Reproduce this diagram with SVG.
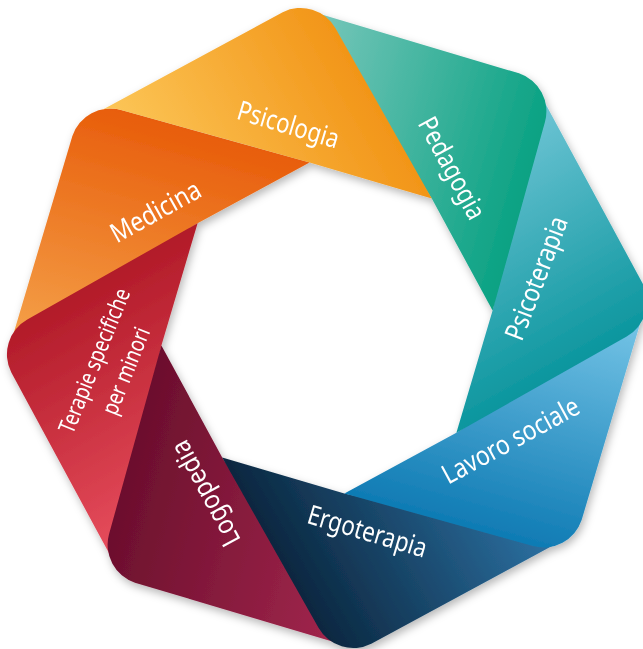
<svg xmlns="http://www.w3.org/2000/svg" width="643" height="649" viewBox="0 0 643 649">
  <style>
    .lbl { font-family: "Noto Sans", "Open Sans", "Liberation Sans", sans-serif; font-size: 27px; fill: #ffffff; text-anchor: middle; }
    .sm { font-size: 23px; }
  </style>
  <defs>
    <path id="band" d="M93.2,114.7 L282.7,12.2 A40,40 0 0 1 335.5,28.3 L431.8,198.6 L309.6,162.4 Z"/>
    <linearGradient id="gbase" gradientUnits="userSpaceOnUse" x1="80" y1="114" x2="310" y2="-16"/>
    <linearGradient id="g0" href="#gbase"><stop offset="0" stop-color="#FDCB5E"/><stop offset="1" stop-color="#F29518"/></linearGradient>
    <linearGradient id="g1" href="#gbase"><stop offset="0" stop-color="#7FC9BE"/><stop offset="1" stop-color="#0AA283"/></linearGradient>
    <linearGradient id="g2" href="#gbase"><stop offset="0" stop-color="#76C8D9"/><stop offset="1" stop-color="#0C969E"/></linearGradient>
    <linearGradient id="g3" href="#gbase"><stop offset="0" stop-color="#7DCAEA"/><stop offset="1" stop-color="#0F7BB4"/></linearGradient>
    <linearGradient id="g4" href="#gbase"><stop offset="0" stop-color="#2F77AA"/><stop offset="1" stop-color="#0B2740"/></linearGradient>
    <linearGradient id="g5" href="#gbase"><stop offset="0" stop-color="#A5284F"/><stop offset="1" stop-color="#6C0F2D"/></linearGradient>
    <linearGradient id="g6" href="#gbase"><stop offset="0" stop-color="#EB5161"/><stop offset="1" stop-color="#B21B29"/></linearGradient>
    <linearGradient id="g7" href="#gbase"><stop offset="0" stop-color="#F5A54D"/><stop offset="1" stop-color="#E85D0B"/></linearGradient>
    <mask id="m0" maskUnits="userSpaceOnUse" x="0" y="0" width="643" height="649">
      <rect x="0" y="0" width="643" height="649" fill="#fff"/>
      <use href="#band" transform="rotate(-45 327 328)" fill="#000"/>
    </mask>
    <filter id="shadow" x="-10%" y="-10%" width="120%" height="120%">
      <feDropShadow dx="2" dy="4" stdDeviation="4" flood-color="#000" flood-opacity="0.28"/>
    </filter>
  </defs>
  <rect x="0" y="0" width="643" height="649" fill="#ffffff"/>
  <g id="ring" filter="url(#shadow)">
    <g id="medicina">
      <use href="#band" transform="rotate(315 327 328)" fill="url(#g7)"/>
      <text class="lbl" textLength="99" lengthAdjust="spacingAndGlyphs" transform="translate(155.7,211.7) rotate(-29)" x="0" y="9">Medicina</text>
    </g>
    <g id="terapie">
      <use href="#band" transform="rotate(270 327 328)" fill="url(#g6)"/>
      <text class="lbl sm" textLength="154" lengthAdjust="spacingAndGlyphs" transform="translate(94.3,360.7) rotate(-68)" x="0" y="8">Terapie specifiche</text>
      <text class="lbl sm" textLength="92" lengthAdjust="spacingAndGlyphs" transform="translate(125.8,370.9) rotate(-68)" x="0" y="8">per minori</text>
    </g>
    <g id="logopedia">
      <use href="#band" transform="rotate(225 327 328)" fill="url(#g5)"/>
      <text class="lbl" textLength="116" lengthAdjust="spacingAndGlyphs" transform="translate(205.7,493.3) rotate(241.5)" x="0" y="9">Logopedia</text>
    </g>
    <g id="ergoterapia">
      <use href="#band" transform="rotate(180 327 328)" fill="url(#g4)"/>
      <text class="lbl" textLength="123" lengthAdjust="spacingAndGlyphs" transform="translate(367.3,531.7) rotate(16.5)" x="0" y="9">Ergoterapia</text>
    </g>
    <g id="lavoro-sociale">
      <use href="#band" transform="rotate(135 327 328)" fill="url(#g3)"/>
      <text class="lbl" textLength="152" lengthAdjust="spacingAndGlyphs" transform="translate(510.7,440.7) rotate(-28.5)" x="0" y="9">Lavoro sociale</text>
    </g>
    <g id="psicoterapia">
      <use href="#band" transform="rotate(90 327 328)" fill="url(#g2)"/>
      <text class="lbl" textLength="130" lengthAdjust="spacingAndGlyphs" transform="translate(536.7,278.3) rotate(-69)" x="0" y="9">Psicoterapia</text>
    </g>
    <g id="pedagogia">
      <use href="#band" transform="rotate(45 327 328)" fill="url(#g1)"/>
      <text class="lbl" textLength="112" lengthAdjust="spacingAndGlyphs" transform="translate(451.7,168.3) rotate(61.7)" x="0" y="9">Pedagogia</text>
    </g>
    <g id="psicologia">
      <use href="#band" fill="url(#g0)" mask="url(#m0)"/>
      <text class="lbl" textLength="105" lengthAdjust="spacingAndGlyphs" transform="translate(288.3,125) rotate(16.7)" x="0" y="9">Psicologia</text>
    </g>
  </g>
</svg>
